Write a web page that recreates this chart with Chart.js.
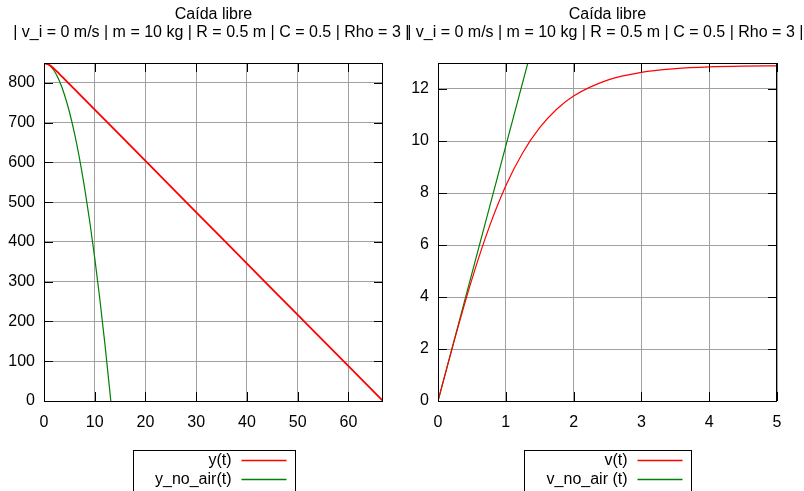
<!DOCTYPE html>
<html>
<head>
<meta charset="utf-8">
<script src="https://cdn.jsdelivr.net/npm/chart.js@4.4.0/dist/chart.umd.min.js"></script>
<style>
  html, body { margin: 0; padding: 0; background: #fff; }
  #wrap { position: relative; width: 804px; height: 491px; overflow: hidden; }
  canvas { position: absolute; top: 0; }
  #left { left: 0; }
  #right { left: 395px; }
</style>
</head>
<body>
<div id="wrap">
  <canvas id="left" width="420" height="491"></canvas>
  <canvas id="right" width="409" height="491"></canvas>
</div>
<script>
// --- data ---
const titleMain = 'Caída libre';
const titleParams = '| v_i = 0 m/s | m = 10 kg | R = 0.5 m | C = 0.5 | Rho = 3 | ';

// position vs time (left)
const tPos = [0, 1, 2, 3, 4, 5, 6, 10, 20, 30, 40, 50, 60, 66.8];
const yPos = [850, 845.5, 835.3, 822.9, 810.1, 797.2, 784.3, 732.7, 603.7, 474.6, 345.6, 216.5, 87.5, 0];
const tPosFree = [0, 1, 2, 3, 4, 5, 6, 7, 8, 9, 10, 11, 12, 13, 13.16];
const yPosFree = [850, 845.1, 830.4, 805.9, 771.5, 727.4, 673.4, 609.7, 536.1, 452.7, 359.5, 256.5, 143.7, 21.1, 0];
const xTicksPos = [0, 10, 20, 30, 40, 50, 60];
const yTicksPos = [0, 100, 200, 300, 400, 500, 600, 700, 800];

// velocity vs time (right)
const tVel = [0, 0.25, 0.5, 0.75, 1, 1.25, 1.5, 1.75, 2, 2.5, 3, 3.5, 4, 4.5, 5];
const vVel = [0, 2.42, 4.68, 6.65, 8.28, 9.55, 10.51, 11.22, 11.73, 12.34, 12.64, 12.78, 12.85, 12.88, 12.89];
const tVelFree = [0, 1, 2, 3, 4, 5];
const vVelFree = [0, 9.81, 19.62, 29.43, 39.24, 49.05];
const xTicksVel = [0, 1, 2, 3, 4, 5];
const yTicksVel = [0, 2, 4, 6, 8, 10, 12];

const FONT = '"Liberation Sans", Arial, Helvetica, sans-serif';
Chart.defaults.font.family = FONT;
Chart.defaults.font.size = 16;
Chart.defaults.color = '#000';

function pts(xs, ys) {
  return xs.map((x, i) => ({ x: x, y: ys[i] }));
}

// gnuplot-like frame with inward ticks, title and boxed legend
const gnuplotLook = {
  id: 'gnuplotLook',
  afterDatasetsDraw(chart) {
    const { ctx, chartArea: a, scales: { x, y } } = chart;
    ctx.save();
    ctx.strokeStyle = '#000';
    ctx.lineWidth = 1;
    ctx.beginPath();
    x.ticks.forEach(t => {
      const px = Math.round(x.getPixelForValue(t.value)) + 0.5;
      ctx.moveTo(px, a.bottom); ctx.lineTo(px, a.bottom - 9);
      ctx.moveTo(px, a.top); ctx.lineTo(px, a.top + 9);
    });
    y.ticks.forEach(t => {
      const py = Math.round(y.getPixelForValue(t.value)) + 0.5;
      ctx.moveTo(a.left, py); ctx.lineTo(a.left + 9, py);
      ctx.moveTo(a.right, py); ctx.lineTo(a.right - 9, py);
    });
    ctx.stroke();
    ctx.strokeRect(a.left + 0.5, a.top + 0.5, a.right - a.left - 1, a.bottom - a.top);
    ctx.restore();
  },
  afterDraw(chart) {
    const { ctx, chartArea: a } = chart;
    const cx = (a.left + a.right) / 2;
    ctx.save();
    ctx.font = '16px ' + FONT;
    ctx.fillStyle = '#000';
    ctx.textAlign = 'center';
    ctx.textBaseline = 'alphabetic';
    ctx.fillText(titleMain, cx, 19);
    ctx.fillText(titleParams, cx, 37);

    // legend
    const ds = chart.data.datasets;
    const textW = Math.max(...ds.map(d => ctx.measureText(d.label).width));
    const boxW = Math.round(textW + 86);
    const boxL = Math.round(cx - boxW / 2) + 0.5;
    ctx.strokeStyle = '#000';
    ctx.lineWidth = 1;
    ctx.strokeRect(boxL, 450.5, boxW, 60);
    const textR = boxL + boxW - 64;
    ctx.textAlign = 'right';
    ctx.textBaseline = 'middle';
    ds.forEach((d, i) => {
      const ry = 460 + i * 19;
      ctx.fillText(d.label, textR, ry + 1);
      ctx.beginPath();
      ctx.strokeStyle = d.borderColor;
      ctx.lineWidth = 1.3;
      ctx.moveTo(textR + 10, ry + 0.5);
      ctx.lineTo(textR + 55, ry + 0.5);
      ctx.stroke();
    });
    ctx.restore();
  }
};

function makeChart(id, datasets, xr, yr, padRight, yWidth) {
  return new Chart(document.getElementById(id), {
    type: 'line',
    data: { datasets: datasets },
    plugins: [gnuplotLook],
    options: {
      responsive: false,
      animation: false,
      devicePixelRatio: 1,
      layout: { padding: { left: 0, top: 63, right: padRight, bottom: 60 } },
      plugins: { legend: { display: false }, title: { display: false }, tooltip: { enabled: false } },
      elements: { point: { radius: 0 }, line: { cubicInterpolationMode: 'monotone' } },
      scales: {
        x: {
          type: 'linear',
          min: xr.min, max: xr.max,
          ticks: { padding: 12, maxRotation: 0, autoSkip: false },
          grid: { color: '#a0a0a0', drawTicks: false },
          border: { display: false },
          afterBuildTicks: s => { s.ticks = xr.ticks.map(v => ({ value: v })); },
          afterFit: s => { s.height = 30; }
        },
        y: {
          type: 'linear',
          min: yr.min, max: yr.max,
          ticks: { padding: 9, autoSkip: false },
          grid: { color: '#a0a0a0', drawTicks: false },
          border: { display: false },
          afterBuildTicks: s => { s.ticks = yr.ticks.map(v => ({ value: v })); },
          afterFit: s => { s.width = yWidth; }
        }
      }
    }
  });
}

makeChart('left', [
  { label: 'y(t)', data: pts(tPos, yPos), borderColor: '#ff0000', borderWidth: 1.8, fill: false },
  { label: 'y_no_air(t)', data: pts(tPosFree, yPosFree), borderColor: '#008000', borderWidth: 1.2, fill: false }
], { min: 0, max: 66.8, ticks: xTicksPos }, { min: 0, max: 850, ticks: yTicksPos }, 37, 44);

makeChart('right', [
  { label: 'v(t)', data: pts(tVel, vVel), borderColor: '#ff0000', borderWidth: 1.2, fill: false },
  { label: 'v_no_air (t)', data: pts(tVelFree, vVelFree), borderColor: '#008000', borderWidth: 1.2, fill: false }
], { min: 0, max: 5, ticks: xTicksVel }, { min: 0, max: 13, ticks: yTicksVel }, 27, 43);
</script>
</body>
</html>
